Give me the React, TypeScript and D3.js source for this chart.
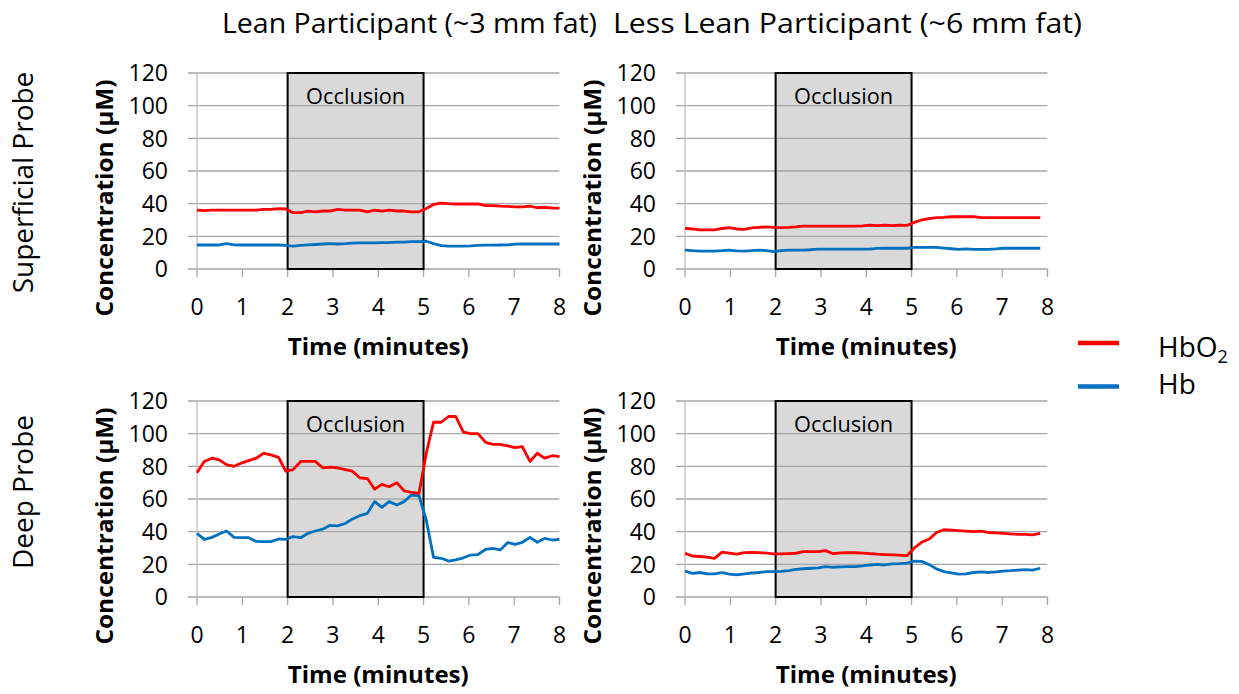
import React from "react";
import * as d3 from "d3";

// ---------- DATA ----------
const TIME = [0, 0.16, 0.33, 0.49, 0.65, 0.82, 0.98, 1.14, 1.31, 1.47, 1.63, 1.8, 1.96, 2.12, 2.29, 2.45, 2.61, 2.78, 2.94, 3.1, 3.27, 3.43, 3.59, 3.76, 3.92, 4.08, 4.24, 4.41, 4.57, 4.73, 4.9, 5.06, 5.22, 5.39, 5.55, 5.71, 5.88, 6.04, 6.2, 6.37, 6.53, 6.69, 6.86, 7.02, 7.18, 7.35, 7.51, 7.67, 7.84, 8];

const LEAN_SUPERFICIAL_HBO2 = [36, 35.8, 36, 36, 36, 36, 36, 36, 36, 36.5, 36.5, 37, 36.8, 34.5, 34.5, 35.5, 35, 35.5, 35.5, 36.5, 36, 36, 36, 35, 36, 35.5, 36, 35.5, 35.5, 35, 35, 37, 39.5, 40.3, 40, 39.8, 39.8, 39.8, 39.8, 38.8, 38.8, 38.5, 38.3, 38, 38, 38.5, 37.5, 37.8, 37.3, 37.3];
const LEAN_SUPERFICIAL_HB = [14.7, 14.7, 14.7, 14.7, 15.5, 14.8, 14.7, 14.7, 14.7, 14.7, 14.7, 14.7, 14.5, 14, 14.5, 14.8, 15, 15.3, 15.5, 15.3, 15.5, 15.8, 16, 16, 16, 16.2, 16.2, 16.5, 16.4, 16.8, 16.7, 17, 15.5, 14.3, 14, 14, 14, 14.2, 14.5, 14.6, 14.6, 14.7, 14.8, 15.2, 15.3, 15.3, 15.3, 15.3, 15.3, 15.3];

const LESS_LEAN_SUPERFICIAL_HBO2 = [24.9, 24.5, 23.9, 23.9, 23.9, 24.8, 25.3, 24.5, 24.3, 25.2, 25.5, 25.8, 25.5, 25.3, 25.5, 25.8, 26.2, 26.3, 26.3, 26.3, 26.3, 26.3, 26.3, 26.3, 26.4, 26.9, 26.5, 26.9, 26.6, 26.8, 26.7, 28.5, 30, 30.8, 31.4, 31.6, 32, 32, 32, 32, 31.4, 31.4, 31.4, 31.4, 31.4, 31.4, 31.4, 31.4, 31.4];
const LESS_LEAN_SUPERFICIAL_HB = [11.6, 11.2, 11, 11, 11, 11.2, 11.6, 11.1, 11, 11.2, 11.6, 11.3, 10.7, 11.3, 11.6, 11.6, 11.6, 11.8, 12.2, 12.2, 12.2, 12.2, 12.2, 12.2, 12.2, 12.2, 12.6, 12.7, 12.7, 12.7, 12.7, 13.2, 13.3, 13.3, 13.2, 12.8, 12.4, 12, 12.3, 12, 12, 12, 12.3, 12.7, 12.7, 12.7, 12.7, 12.7, 12.7];

const LEAN_DEEP_HBO2 = [76, 83, 85, 84, 81, 80, 82, 83.5, 85, 88, 87, 85.5, 77, 78, 83, 83, 83, 79, 79.5, 79, 78, 77, 73, 72.5, 66, 69, 67.5, 70, 65, 64, 63.5, 88, 107, 107, 110.5, 110.5, 101, 100, 100, 94.7, 93.5, 93.5, 92.5, 91.4, 92, 83, 88, 85, 86.5, 86];
const LEAN_DEEP_HB = [39, 35.3, 36.5, 38.6, 40.4, 36.5, 36.3, 36.3, 34, 33.9, 33.9, 35.5, 35.3, 37, 36.3, 39, 40.4, 41.6, 43.9, 43.5, 45, 47.8, 49.8, 51.2, 58.4, 54.9, 58.4, 56.3, 58.4, 62.4, 62, 47, 24.3, 23.7, 22, 22.7, 24, 25.7, 26, 29.2, 29.8, 28.8, 33.3, 32.2, 33.5, 36.5, 33.5, 35.9, 34.9, 35.3];

const LESS_LEAN_DEEP_HBO2 = [26.7, 25.1, 24.8, 24.4, 23.7, 27.5, 26.8, 26.2, 27.2, 27.3, 27.2, 26.8, 26.4, 26.4, 26.6, 26.8, 27.8, 27.8, 27.8, 28.4, 26.5, 27, 27.2, 27.1, 26.9, 26.6, 26.2, 26, 25.8, 25.6, 25.3, 30, 33.5, 35.5, 39.5, 41.2, 41, 40.6, 40.3, 40, 40.3, 39.5, 39.2, 39, 38.6, 38.4, 38.4, 38, 39];
const LESS_LEAN_DEEP_HB = [15.9, 14.5, 15, 14.2, 14.1, 14.9, 14, 13.5, 14.2, 14.7, 15, 15.5, 15.5, 15.7, 16.2, 16.9, 17.3, 17.6, 17.8, 18.6, 18.2, 18.4, 18.6, 18.6, 19, 19.6, 20, 19.6, 20.3, 20.4, 20.8, 22, 21.8, 19.8, 17.2, 15.6, 14.7, 14, 14.2, 15, 15.4, 15, 15.4, 15.9, 16.1, 16.5, 16.8, 16.5, 17.6];

const X_TICKS = [0, 1, 2, 3, 4, 5, 6, 7, 8];
const Y_TICKS = [0, 20, 40, 60, 80, 100, 120];
const OCCLUSION = [2, 5];
const COLUMN_TITLES = ["Lean Participant (~3 mm fat)", "Less Lean Participant (~6 mm fat)"];
const ROW_TITLES = ["Superficial Probe", "Deep Probe"];
const SERIES_NAMES = ["HbO", "Hb"];

// ---------- STYLE / LAYOUT ----------
const W = 1239;
const H = 694;
const FONT = "'Open Sans', 'Liberation Sans', sans-serif";
const RED = "#ff0000";
const BLUE = "#0070c0";
const GRID = "#a6a6a6";
const COL_LEFT = [197, 685];
const ROW_TOP = [73, 401];
const PLOT_W = 362.5;
const PLOT_H = 196;

const PANELS = [
  { col: 0, row: 0, hbo2: LEAN_SUPERFICIAL_HBO2, hb: LEAN_SUPERFICIAL_HB },
  { col: 1, row: 0, hbo2: LESS_LEAN_SUPERFICIAL_HBO2, hb: LESS_LEAN_SUPERFICIAL_HB },
  { col: 0, row: 1, hbo2: LEAN_DEEP_HBO2, hb: LEAN_DEEP_HB },
  { col: 1, row: 1, hbo2: LESS_LEAN_DEEP_HBO2, hb: LESS_LEAN_DEEP_HB },
];

function Panel({ left, top, hbo2, hb }: { left: number; top: number; hbo2: number[]; hb: number[] }) {
  const x = d3.scaleLinear().domain([0, 8]).range([left, left + PLOT_W]);
  const y = d3.scaleLinear().domain([0, 120]).range([top + PLOT_H, top]);
  const line = d3
    .line<number>()
    .x((_, i) => x(TIME[i]))
    .y((d) => y(d));
  const bottom = top + PLOT_H;
  return (
    <g>
      {/* occlusion fill */}
      <rect
        x={x(OCCLUSION[0])}
        y={y(120)}
        width={x(OCCLUSION[1]) - x(OCCLUSION[0])}
        height={y(0) - y(120)}
        fill="#d9d9d9"
      />
      {/* gridlines */}
      {Y_TICKS.map((t) => (
        <line key={t} x1={left - 9} x2={left + PLOT_W} y1={y(t)} y2={y(t)} stroke={GRID} strokeWidth={1.3} />
      ))}
      {/* y axis */}
      <line x1={left} x2={left} y1={y(120)} y2={bottom} stroke="#bfbfbf" strokeWidth={1.3} />
      {/* x ticks */}
      {X_TICKS.map((t) => (
        <line key={t} x1={x(t)} x2={x(t)} y1={bottom} y2={bottom + 8} stroke={GRID} strokeWidth={1.3} />
      ))}
      {/* occlusion border */}
      <rect
        x={x(OCCLUSION[0])}
        y={y(120)}
        width={x(OCCLUSION[1]) - x(OCCLUSION[0])}
        height={y(0) - y(120)}
        fill="none"
        stroke="#000"
        strokeWidth={2}
      />
      <text
        x={x((OCCLUSION[0] + OCCLUSION[1]) / 2)}
        y={top + 30.5}
        textAnchor="middle"
        fontSize={21.5}
        fill="#000"
        textLength={99}
        lengthAdjust="spacingAndGlyphs"
      >
        Occlusion
      </text>
      {/* data */}
      <path d={line(hb) || ""} fill="none" stroke={BLUE} strokeWidth={2.8} strokeLinejoin="round" />
      <path d={line(hbo2) || ""} fill="none" stroke={RED} strokeWidth={2.8} strokeLinejoin="round" />
      {/* tick labels */}
      {Y_TICKS.map((t) => (
        <text key={t} x={left - 29} y={y(t) + 8.3} textAnchor="end" fontSize={23} fill="#000">
          {t}
        </text>
      ))}
      {X_TICKS.map((t) => (
        <text key={t} x={x(t)} y={bottom + 46} textAnchor="middle" fontSize={23} fill="#000">
          {t}
        </text>
      ))}
      {/* axis titles */}
      <text
        x={left + PLOT_W / 2}
        y={bottom + 86}
        textAnchor="middle"
        fontSize={23}
        fontWeight="bold"
        fill="#000"
        textLength={181}
        lengthAdjust="spacingAndGlyphs"
      >
        Time (minutes)
      </text>
      <text
        transform={`translate(${left - 84},${top + 125}) rotate(-90)`}
        textAnchor="middle"
        fontSize={23.5}
        fontWeight="bold"
        fill="#000"
        textLength={237}
        lengthAdjust="spacingAndGlyphs"
      >
        Concentration (µM)
      </text>
    </g>
  );
}

export default function App() {
  return (
    <svg
      width={W}
      height={H}
      viewBox={`0 0 ${W} ${H}`}
      style={{ position: "absolute", left: 0, top: 0, background: "#fff" }}
      fontFamily={FONT}
    >
      <rect width={W} height={H} fill="#fff" />
      {COLUMN_TITLES.map((t, i) => (
        <text
          key={t}
          x={i === 0 ? 409.5 : 847.5}
          y={33}
          textAnchor="middle"
          fontSize={28}
          fill="#000"
          textLength={i === 0 ? 375 : 469}
          lengthAdjust="spacingAndGlyphs"
        >
          {t}
        </text>
      ))}
      {ROW_TITLES.map((t, i) => (
        <text
          key={t}
          transform={`translate(33,${i === 0 ? 182.5 : 492}) rotate(-90)`}
          textAnchor="middle"
          fontSize={28}
          fill="#000"
        >
          {t}
        </text>
      ))}
      {PANELS.map((p, i) => (
        <Panel key={i} left={COL_LEFT[p.col]} top={ROW_TOP[p.row]} hbo2={p.hbo2} hb={p.hb} />
      ))}
      {/* legend */}
      <line x1={1078} x2={1119} y1={343} y2={343} stroke={RED} strokeWidth={4.5} />
      <line x1={1078} x2={1119} y1={386.5} y2={386.5} stroke={BLUE} strokeWidth={4.5} />
      <text x={1158} y={357} fontSize={28} fill="#000">
        {SERIES_NAMES[0]}
        <tspan fontSize={18} dy={6}>2</tspan>
      </text>
      <text x={1158} y={393.5} fontSize={28} fill="#000">
        {SERIES_NAMES[1]}
      </text>
    </svg>
  );
}
